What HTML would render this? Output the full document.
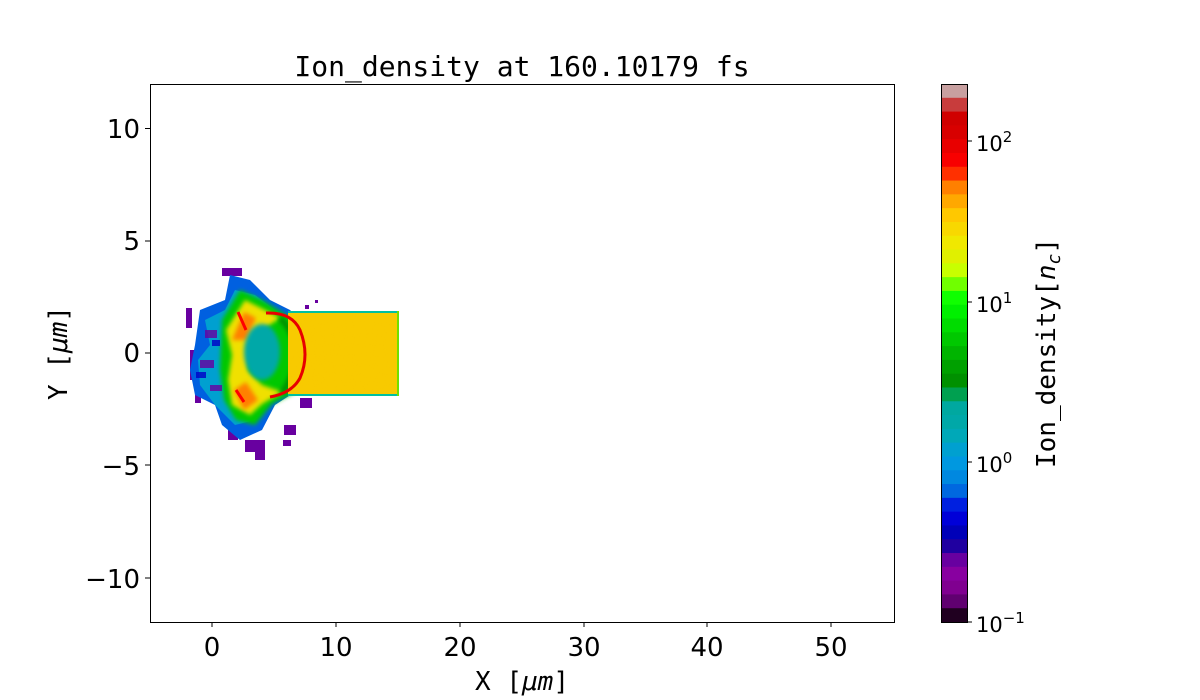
<!DOCTYPE html>
<html><head><meta charset="utf-8"><style>
body{margin:0;background:#fff;width:1200px;height:700px;overflow:hidden}
svg{display:block}
text{font-family:"DejaVu Sans","Liberation Sans",sans-serif}
.m{font-family:"DejaVu Sans Mono","Liberation Mono",monospace}
</style></head><body>
<svg width="1200" height="700" viewBox="0 0 1200 700">
<defs>
<filter id="b" x="-20%" y="-20%" width="140%" height="140%"><feGaussianBlur stdDeviation="2"/></filter>
<filter id="n" x="0" y="0" width="100%" height="100%"><feTurbulence type="fractalNoise" baseFrequency="0.9" numOctaves="1" result="t"/><feColorMatrix in="t" type="matrix" values="0 0 0 0 1 0 0 0 0 0.7 0 0 0 0 0 0 0 0 0.35 0" result="c"/><feComposite in="c" in2="SourceGraphic" operator="in"/></filter>
</defs>
<text x="522" y="76" class="m" font-size="28" text-anchor="middle">Ion_density at 160.10179 fs</text>
<g>
<g fill="#6800a0">
<rect x="186" y="308" width="6" height="20"/><rect x="190" y="350" width="5" height="30"/><rect x="195" y="395" width="6" height="8"/>
<rect x="222" y="268" width="20" height="8"/><rect x="228" y="420" width="10" height="20"/><rect x="245" y="440" width="20" height="12"/>
<rect x="255" y="452" width="10" height="8"/><rect x="284" y="425" width="12" height="10"/><rect x="300" y="398" width="12" height="10"/>
<rect x="283" y="440" width="8" height="6"/><rect x="305" y="305" width="4" height="4"/><rect x="315" y="300" width="3" height="3"/>
</g>
<path d="M200 310 L225 300 L230 275 L250 280 L270 300 L290 310 L300 320 L305 355 L298 390 L275 405 L262 430 L240 440 L222 425 L215 405 L195 395 L190 370 L195 345 Z" fill="#0060e0"/>
<path d="M205 320 L225 310 L235 290 L255 295 L275 310 L292 318 L300 355 L292 392 L270 402 L255 420 L235 425 L215 405 L200 385 L198 360 L210 345 Z" fill="#00a0d0"/>
<path d="M222 320 L240 290 L262 300 L282 312 L298 322 L305 355 L296 392 L272 404 L255 425 L236 420 L224 400 L220 370 Z" fill="#00c800" filter="url(#b)"/>
<path d="M226 330 L245 300 L265 310 L280 318 L262 330 L250 345 L248 370 L262 385 L282 392 L262 404 L250 415 L232 405 L228 380 L232 355 Z" fill="#f0e000" filter="url(#b)"/>
<path d="M232 340 L244 312 L256 318 L246 340 Z M234 390 L246 382 L258 400 L244 410 Z" fill="#ff8000" filter="url(#b)"/>
<ellipse cx="262" cy="352" rx="18" ry="28" fill="#00a8a8" filter="url(#b)"/>
<path d="M280 318 Q312 350 282 393" stroke="#009000" stroke-width="6" fill="none" filter="url(#b)"/>
<g fill="#6800a0" opacity="0.8"><rect x="205" y="330" width="12" height="8"/><rect x="200" y="360" width="14" height="8"/><rect x="210" y="385" width="12" height="6"/></g>
<g fill="#0000c8" opacity="0.8"><rect x="212" y="340" width="8" height="6"/><rect x="196" y="372" width="10" height="6"/></g>
<rect x="288" y="311" width="111" height="85" fill="#f7c800"/>
<rect x="288" y="311" width="111" height="85" fill="#fff" filter="url(#n)" opacity="0.6"/>
<rect x="288" y="311" width="111" height="2" fill="#00c0a0"/>
<rect x="288" y="394" width="111" height="2" fill="#00c0a0"/>
<rect x="397" y="311" width="2" height="85" fill="#70e000"/>
<path d="M266 313 Q292 312 300 330 Q310 355 300 378 Q292 393 270 397" stroke="#e80000" stroke-width="3" fill="none"/>
<path d="M238 312 L246 330 M236 390 L244 402" stroke="#f00" stroke-width="3" fill="none"/>
</g>
<rect x="150.5" y="84.5" width="744" height="538" fill="none" stroke="#000" stroke-width="1"/>
<g stroke="#000" stroke-width="1">
<line x1="212" y1="622" x2="212" y2="627"/><line x1="336" y1="622" x2="336" y2="627"/><line x1="460" y1="622" x2="460" y2="627"/><line x1="584" y1="622" x2="584" y2="627"/><line x1="707" y1="622" x2="707" y2="627"/><line x1="831" y1="622" x2="831" y2="627"/>
<line x1="145" y1="128.5" x2="150" y2="128.5"/><line x1="145" y1="241" x2="150" y2="241"/><line x1="145" y1="353" x2="150" y2="353"/><line x1="145" y1="465" x2="150" y2="465"/><line x1="145" y1="578" x2="150" y2="578"/>
</g>
<g font-size="26" text-anchor="middle">
<text x="212" y="656">0</text><text x="336" y="656">10</text><text x="460" y="656">20</text><text x="584" y="656">30</text><text x="707" y="656">40</text><text x="831" y="656">50</text>
</g>
<g font-size="26" text-anchor="end">
<text x="140" y="138">10</text><text x="140" y="250">5</text><text x="140" y="362">0</text><text x="140" y="475">−5</text><text x="140" y="588">−10</text>
</g>
<text x="522" y="690" font-size="26" class="m" text-anchor="middle">X [<tspan font-style="italic">μm</tspan>]</text>
<text transform="translate(67,353) rotate(-90)" font-size="26" class="m" text-anchor="middle">Y [<tspan font-style="italic">μm</tspan>]</text>
<g id="cb"></g>
<rect x="941.5" y="84.5" width="26" height="538" fill="none" stroke="#000"/>
<g stroke="#000"><line x1="967" y1="141" x2="972" y2="141"/><line x1="967" y1="302" x2="972" y2="302"/><line x1="967" y1="462" x2="972" y2="462"/><line x1="967" y1="622" x2="972" y2="622"/></g>
<g font-size="21">
<text x="976" y="151">10<tspan dy="-9" font-size="15">2</tspan></text>
<text x="976" y="312">10<tspan dy="-9" font-size="15">1</tspan></text>
<text x="976" y="472">10<tspan dy="-9" font-size="15">0</tspan></text>
<text x="976" y="632">10<tspan dy="-9" font-size="15">−1</tspan></text>
</g>
<text transform="translate(1055,353) rotate(-90)" font-size="26" class="m" text-anchor="middle">Ion_density[<tspan font-style="italic">n</tspan><tspan font-style="italic" font-size="18" dy="5">c</tspan><tspan dy="-5">]</tspan></text>
</svg>
<script>
var c=["#c8a0a0","#c83c3c","#d00000","#d80000","#e80000","#f80000","#ff3000","#ff8000","#ffa800","#ffc800","#f8d800","#f0e800","#e0f000","#c8ff00","#70ff00","#10ff00","#00f000","#00dc00","#00c800","#00b400","#00a000","#009000","#00a050","#00a8a0","#00a8a8","#00a8b8","#00a0d0","#0098e0","#0088e0","#0068e0","#0020e0","#0000d8","#0000b8","#2000a0","#6800a0","#8800a0","#800090","#600070","#200020"];
var g=document.getElementById("cb"),h=538/c.length,s="";
for(var i=0;i<c.length;i++)s+='<rect x="941" y="'+(84+i*h)+'" width="27" height="'+(h+0.6)+'" fill="'+c[i]+'"/>';
g.innerHTML=s;
</script>
</body></html>
